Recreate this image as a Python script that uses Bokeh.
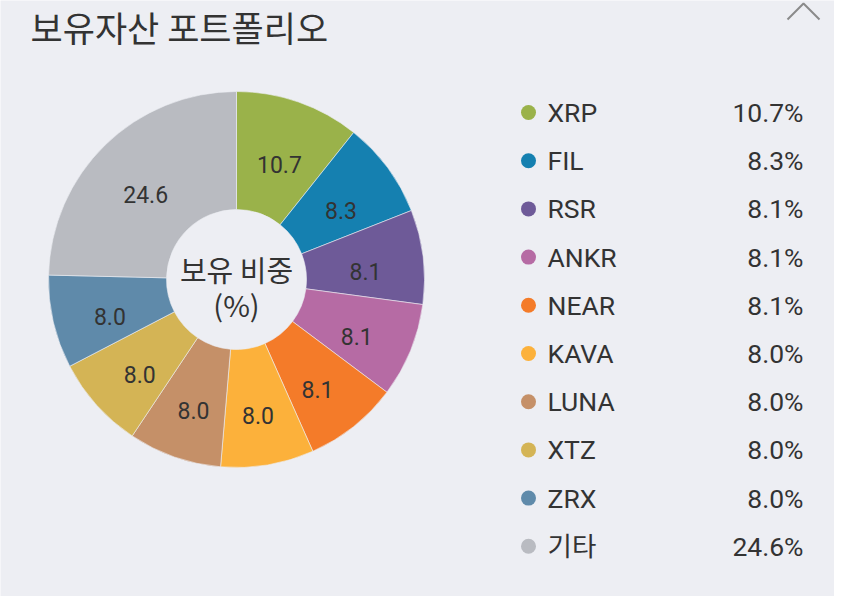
import math
from bokeh.plotting import figure
from bokeh.models import Range1d, ColumnDataSource
from bokeh.core.properties import value
from bokeh.embed import file_html
from bokeh.resources import INLINE

# ---- data ----
assets = ["XRP", "FIL", "RSR", "ANKR", "NEAR", "KAVA", "LUNA", "XTZ", "ZRX", "기타"]
weights = [10.7, 8.3, 8.1, 8.1, 8.1, 8.0, 8.0, 8.0, 8.0, 24.6]
colors = ["#9AB24A", "#1580B0", "#6E5A98", "#B66BA4", "#F47B29",
          "#FCB13B", "#C59068", "#D4B455", "#5F8AAA", "#B9BBC1"]
title_text = "보유자산 포트폴리오"
center_text = ["보유 비중", "(%)"]

BG = "#EDEEF3"
W, H = 834, 596
KR = "Noto Sans CJK KR"
LAT = "Roboto, Noto Sans CJK KR"


def X(ix):
    return ix


def Y(iy):
    return H - iy


p = figure(width=W, height=H, output_backend="svg", toolbar_location=None,
           x_range=Range1d(0, W), y_range=Range1d(0, H), min_border=0,
           background_fill_color=BG, border_fill_color=BG, outline_line_color=None)
p.axis.visible = False
p.grid.visible = False

# ---- donut ----
cx, cy = X(236), Y(279)
r_out, r_in, r_lab, lab_dy = 188, 70, 130, 8
total = sum(weights)
starts, ends, lx, ly, labels = [], [], [], [], []
cum = 0.0
for w in weights:
    a0 = math.pi / 2 - 2 * math.pi * cum / total
    cum += w
    a1 = math.pi / 2 - 2 * math.pi * cum / total
    starts.append(a0)
    ends.append(a1)
    am = (a0 + a1) / 2
    lx.append(cx + r_lab * math.cos(am))
    ly.append(cy + r_lab * math.sin(am) - lab_dy)
    labels.append(f"{w:.1f}")

src = ColumnDataSource(dict(start=starts, end=ends, color=colors, lx=lx, ly=ly, lab=labels))
p.annular_wedge(x=cx, y=cy, inner_radius=r_in, outer_radius=r_out,
                start_angle="start", end_angle="end", direction="clock",
                fill_color="color", line_color=BG, line_width=0.6, source=src)
p.text(x="lx", y="ly", text="lab", source=src, text_font=value("Roboto"),
       text_font_size="23px", text_color="#333333", text_align="center",
       text_baseline="middle")

# centre label
p.text(x=[cx, cx], y=[Y(268), Y(303)], text=center_text, text_font=value(KR),
       text_font_size="29px", text_color="#333333", text_align="center",
       text_baseline="middle")

# ---- title ----
p.text(x=[X(30)], y=[Y(0)], text=[title_text], text_font=value(KR),
       text_font_size="35px", text_color="#333333", text_align="left",
       text_baseline="top")

# chevron
p.line(x=[X(787), X(803), X(819)], y=[Y(19), Y(3), Y(19)],
       line_color="#8A8A8A", line_width=2)

# ---- legend ----
row0, step = 112, 48.2
ly_ = [Y(row0 + step * i) for i in range(len(assets))]
vals = [f"{w:.1f}%" for w in weights]
lsrc = ColumnDataSource(dict(y=ly_, name=assets, val=vals, color=colors))
p.scatter(x=X(528), y="y", size=15, fill_color="color", line_color=None, source=lsrc)
p.text(x=X(547), y="y", text="name", source=lsrc, text_font=value(LAT),
       text_font_size="26.5px", text_color="#333333", text_align="left",
       text_baseline="middle")
p.text(x=X(803), y="y", text="val", source=lsrc, text_font=value("Roboto"),
       text_font_size="26.5px", text_color="#333333", text_align="right",
       text_baseline="middle")

open("out.html", "w").write(file_html(p, INLINE))
